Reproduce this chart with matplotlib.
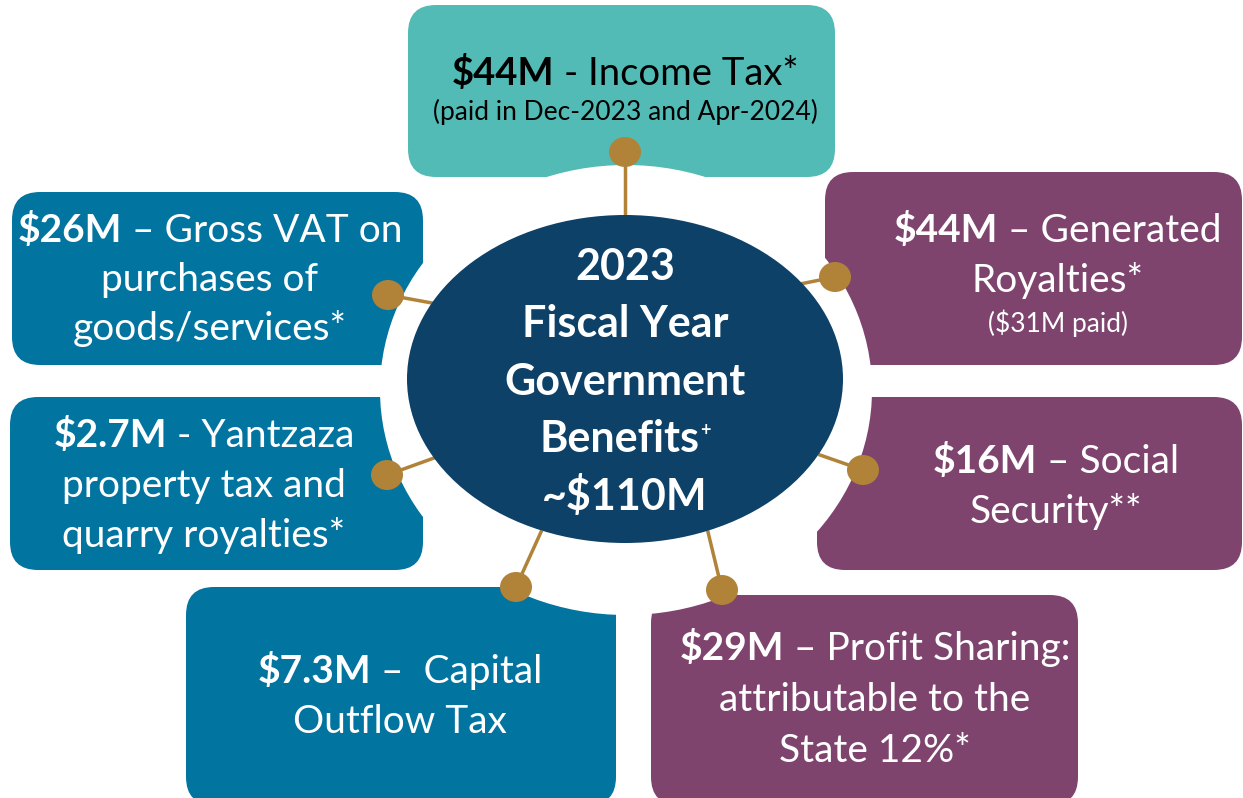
import matplotlib
matplotlib.use("Agg")
import matplotlib.pyplot as plt
from matplotlib.patches import FancyBboxPatch, Ellipse

plt.rcParams['font.family'] = ['Lato', 'DejaVu Sans']

W, H = 1243, 798

TEAL = '#52BBB5'
BLUE = '#0274A0'
PURPLE = '#7E446E'
NAVY = '#0D4168'
GOLD = '#B08338'

# box contents: bold amount + text, split into lines
amounts = ['$44M', '$26M', '$2.7M', '$7.3M', '$29M', '$16M', '$44M']
first_rest = ['- Income Tax*', '\u2013 Gross VAT on', '- Yantzaza', '\u2013  Capital',
              '\u2013 Profit Sharing:', '\u2013 Social', '\u2013 Generated']
more_lines = [
    ['(paid in Dec-2023 and Apr-2024)'],
    ['purchases of', 'goods/services*'],
    ['property tax and', 'quarry royalties*'],
    ['Outflow Tax'],
    ['attributable to the', 'State 12%*'],
    ['Security**'],
    ['Royalties*', '($31M paid)'],
]
box_colors = [TEAL, BLUE, BLUE, BLUE, PURPLE, PURPLE, PURPLE]
text_colors = ['black'] + ['white'] * 6

center_lines = ['2023', 'Fiscal Year', 'Government', 'Benefits', '~$110M']

# layout (pixels, y down)
boxes = [(408, 5, 835, 177), (12, 192, 423, 365), (10, 397, 423, 570),
         (186, 587, 616, 805), (651, 595, 1078, 805), (817, 397, 1242, 570),
         (825, 172, 1242, 365)]
text_x = [625, 210, 204, 400, 875, 1056, 1058]
first_y = [85, 242, 447, 683, 660, 473, 242]
line_gap = [35, 49, 50, 50, 51, 50, 50]
dots = [(625, 152), (388, 295), (387, 475), (516, 587), (722, 590), (863, 470), (835, 277)]
spokes = [(625, 215), (432, 303), (434, 458), (541, 532), (708, 532), (820, 455), (800, 284)]

fig = plt.figure(figsize=(W / 100, H / 100), dpi=100)
ax = fig.add_axes([0, 0, 1, 1])
ax.set_xlim(0, W)
ax.set_ylim(H, 0)
ax.axis('off')
renderer = fig.canvas.get_renderer()


def rich_line(x, y, parts, color):
    # parts: (text, weight, size, gap_before, raise)
    texts = []
    for s, w, fs, gap, dy in parts:
        texts.append((ax.text(0, y - dy, s, fontsize=fs, fontweight=w, color=color,
                              va='baseline', ha='left', zorder=10), gap))
    widths = [t.get_window_extent(renderer).width + g for t, g in texts]
    x0 = x - sum(widths) / 2
    for (t, g), wd in zip(texts, widths):
        t.set_x(x0 + g)
        x0 += wd


for (x0, y0, x1, y1), c in zip(boxes, box_colors):
    ax.add_patch(FancyBboxPatch((x0, y0), x1 - x0, y1 - y0,
                                boxstyle='round,pad=0,rounding_size=28',
                                fc=c, ec='none', zorder=1))

# white ring cutting the boxes
ax.add_patch(Ellipse((626, 390), 492, 450, fc='white', ec='none', zorder=2))

for (dx, dy), (sx, sy) in zip(dots, spokes):
    ax.plot([dx, sx], [dy, sy], color=GOLD, lw=2.5, zorder=3)
    ax.add_patch(Ellipse((dx, dy), 32, 30, fc=GOLD, ec='none', zorder=5))

ax.add_patch(Ellipse((625, 379), 436, 328, fc=NAVY, ec='none', zorder=4))

for i in range(len(amounts)):
    big = 27.5 if i == 0 else 28
    small = 19 if i == 0 else 28
    rich_line(text_x[i], first_y[i],
              [(amounts[i], 'bold', big, 0, 0),
               (first_rest[i], 'normal', big, big * 0.36, 0)], text_colors[i])
    for k, ln in enumerate(more_lines[i]):
        fs = small
        y = first_y[i] + (k + 1) * line_gap[i]
        if ln.startswith('($31M'):
            fs = 19
            y = 332
        rich_line(text_x[i], y, [(ln, 'normal', fs, 0, 0)], text_colors[i])

center_base = [280, 337, 395, 452, 510]
for ln, y in zip(center_lines, center_base):
    if ln == 'Benefits':
        rich_line(625, y, [(ln, 'bold', 31, 0, 0), ('+', 'bold', 13, 1, 16)], 'white')
    else:
        rich_line(625, y, [(ln, 'bold', 31, 0, 0)], 'white')

fig.savefig('out.png', dpi=100)
